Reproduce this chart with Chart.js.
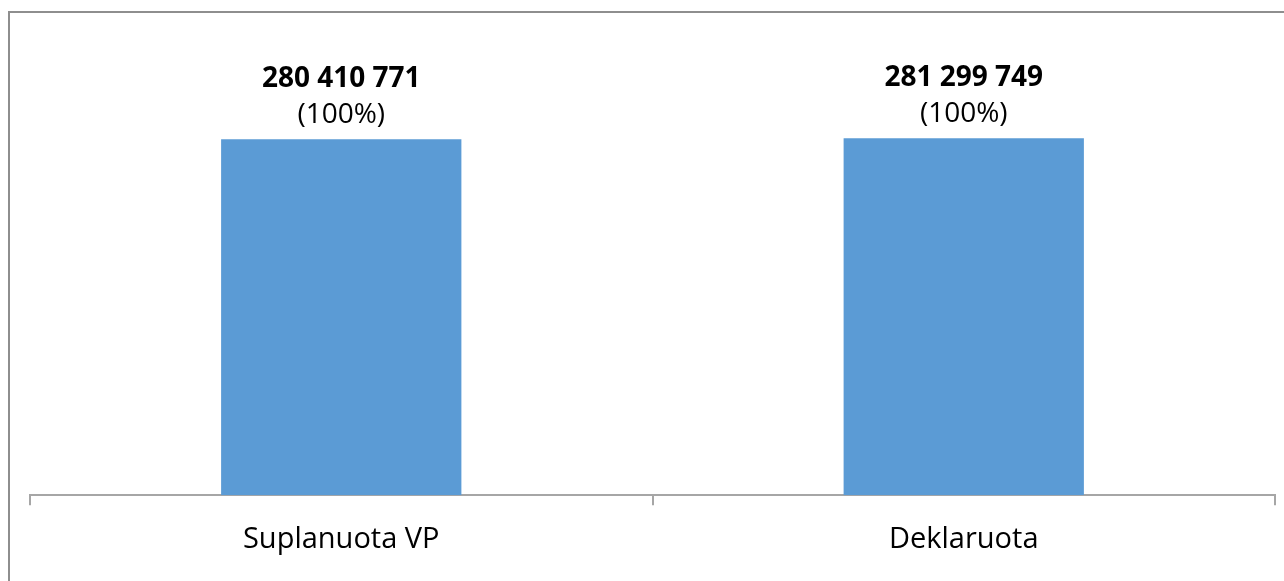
<!DOCTYPE html>
<html>
<head>
<meta charset="utf-8">
<script src="https://cdn.jsdelivr.net/npm/chart.js@4"></script>
<style>
  html, body { margin: 0; padding: 0; background: #fff; }
  #wrap { width: 1284px; height: 581px; }
</style>
</head>
<body>
<div id="wrap"><canvas id="chart"></canvas></div>
<script>
const categories = ['Suplanuota VP', 'Deklaruota'];
const values = [280410771, 281299749];
const shares = ['(100%)', '(100%)'];

// thousands with spaces, like 280 410 771
const fmt = v => String(v).replace(/\B(?=(\d{3})+(?!\d))/g, ' ');

// outer frame (only left/top edges are visible in the picture)
const framePlugin = {
    id: 'frame',
    beforeDraw(chart) {
        const ctx = chart.ctx;
        ctx.save();
        ctx.strokeStyle = '#8e8e8e';
        ctx.lineWidth = 2;
        ctx.beginPath();
        ctx.moveTo(9, 581);
        ctx.lineTo(9, 12);
        ctx.lineTo(1284, 12);
        ctx.stroke();
        ctx.restore();
    }
};

// value + share above each bar
const labelPlugin = {
    id: 'barLabels',
    afterDatasetsDraw(chart) {
        const ctx = chart.ctx;
        const meta = chart.getDatasetMeta(0);
        ctx.save();
        ctx.fillStyle = '#000';
        ctx.textAlign = 'center';
        ctx.textBaseline = 'alphabetic';
        meta.data.forEach((bar, i) => {
            ctx.font = 'bold 28px "Open Sans"';
            ctx.fillText(fmt(values[i]), bar.x, bar.y - 52);
            ctx.font = '28px "Open Sans"';
            ctx.fillText(shares[i], bar.x, bar.y - 16);
        });
        ctx.restore();
    }
};

new Chart(document.getElementById('chart').getContext('2d'), {
    type: 'bar',
    data: {
        labels: categories,
        datasets: [{
            data: values,
            backgroundColor: '#5b9bd5',
            borderWidth: 0,
            categoryPercentage: 1,
            barPercentage: 0.386
        }]
    },
    options: {
        responsive: true,
        maintainAspectRatio: false,
        animation: false,
        layout: { padding: { left: 30, right: 9, top: 51, bottom: 7 } },
        plugins: { legend: { display: false }, tooltip: { enabled: false } },
        scales: {
            y: { display: false, min: 0, max: 350000000 },
            x: {
                grid: {
                    offset: true,
                    drawOnChartArea: false,
                    tickLength: 10,
                    color: '#a6a6a6',
                    lineWidth: 2
                },
                border: { color: '#a6a6a6', width: 2 },
                ticks: {
                    color: '#000',
                    padding: 17,
                    font: { family: 'Open Sans', size: 29 }
                }
            }
        }
    },
    plugins: [framePlugin, labelPlugin]
});
</script>
</body>
</html>
